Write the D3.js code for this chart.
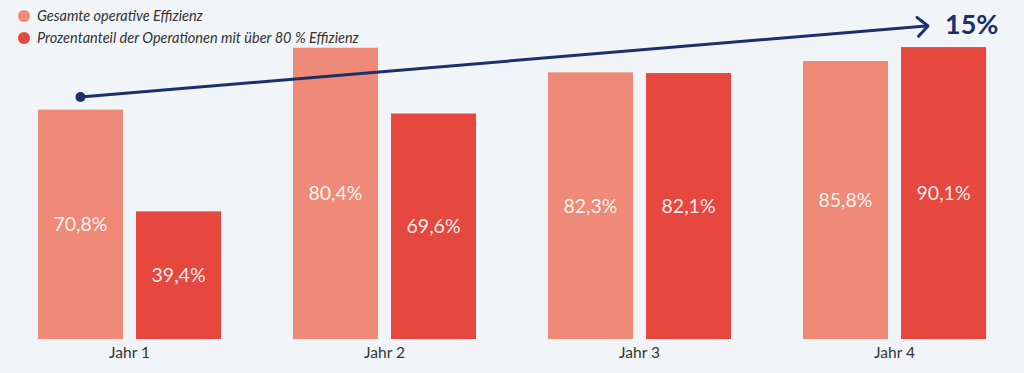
<!DOCTYPE html>
<html>
<head>
<meta charset="utf-8">
<script src="https://cdn.jsdelivr.net/npm/d3@7"></script>
<style>
  html, body { margin: 0; padding: 0; background: #f2f5f8; }
  svg { display: block; font-family: Lato, "Open Sans", sans-serif; }
</style>
</head>
<body>
<div id="chart"></div>
<script>
// data
var jahre = ["Jahr 1", "Jahr 2", "Jahr 3", "Jahr 4"];
var serien = ["Gesamte operative Effizienz", "Prozentanteil der Operationen mit über 80 % Effizienz"];
var gesamt = [70.8, 80.4, 82.3, 85.8];
var ueber80 = [39.4, 69.6, 82.1, 90.1];
// the Jahr 2 bar is drawn taller than its label says, keep the drawn height apart
var gesamtBalken = [70.8, 89.9, 82.3, 85.8];
var steigerung = "15%";
var farben = ["#ee8a77", "#e6473e"];

var width = 1024, height = 373;

var svg = d3.select("#chart").append("svg")
    .attr("width", width)
    .attr("height", height);

svg.append("rect")
    .attr("width", width)
    .attr("height", height)
    .attr("fill", "#f2f5f8");

var x = d3.scaleBand()
    .domain(jahre)
    .range([2, 1022])
    .paddingInner(0.282)
    .paddingOuter(0.141);

var xs = d3.scaleBand()
    .domain([0, 1])
    .range([0, x.bandwidth()])
    .paddingInner(0.133);

var y = d3.scaleLinear()
    .domain([0, 100])
    .range([339, 15]);

var rows = jahre.map(function (j, i) {
  return [
    {jahr: j, s: 0, hoehe: gesamtBalken[i], wert: gesamt[i]},
    {jahr: j, s: 1, hoehe: ueber80[i], wert: ueber80[i]}
  ];
});
var flat = d3.merge(rows);

var fmt = function (v) { return d3.format(".1f")(v).replace(".", ",") + "%"; };

//bars
svg.selectAll("rect.bar")
    .data(flat)
    .enter()
    .append("rect")
    .attr("class", "bar")
    .attr("x", function (d) { return x(d.jahr) + xs(d.s); })
    .attr("y", function (d) { return y(d.hoehe); })
    .attr("width", xs.bandwidth())
    .attr("height", function (d) { return y(0) - y(d.hoehe); })
    .attr("fill", function (d) { return farben[d.s]; });

//value labels in the middle of each bar
svg.selectAll("text.wert")
    .data(flat)
    .enter()
    .append("text")
    .attr("class", "wert")
    .attr("x", function (d) { return x(d.jahr) + xs(d.s) + xs.bandwidth() / 2; })
    .attr("y", function (d) { return (y(d.hoehe) + y(0)) / 2 + 7; })
    .attr("text-anchor", "middle")
    .attr("font-size", "19.5px")
    .attr("fill", "#ffffff")
    .attr("fill-opacity", 0.92)
    .text(function (d) { return fmt(d.wert); });

//x axis labels
var xAxis = d3.axisBottom(x).tickSize(0).tickPadding(8);
var gx = svg.append("g")
    .attr("transform", "translate(0," + y(0) + ")")
    .call(xAxis);
gx.select(".domain").remove();
gx.selectAll("text")
    .attr("font-family", "Lato, sans-serif")
    .attr("font-size", "15.5px")
    .attr("fill", "#333333");

//arrow annotation
var navy = "#1b2f6c";
var p0 = [x(jahre[0]) + xs(0) + xs.bandwidth() / 2, y(74.7)];
var p1 = [928, y(96.6)];
svg.append("line")
    .attr("x1", p0[0]).attr("y1", p0[1])
    .attr("x2", p1[0] - 2).attr("y2", p1[1])
    .attr("stroke", navy)
    .attr("stroke-width", 3);
svg.append("circle")
    .attr("cx", p0[0]).attr("cy", p0[1])
    .attr("r", 5)
    .attr("fill", navy);
var ang = Math.atan2(p1[1] - p0[1], p1[0] - p0[0]);
var arm = 14, spread = Math.PI / 4.2;
var a1 = [p1[0] - arm * Math.cos(ang - spread), p1[1] - arm * Math.sin(ang - spread)];
var a2 = [p1[0] - arm * Math.cos(ang + spread), p1[1] - arm * Math.sin(ang + spread)];
svg.append("path")
    .attr("d", "M" + a1 + "L" + p1 + "L" + a2)
    .attr("fill", "none")
    .attr("stroke", navy)
    .attr("stroke-width", 3)
    .attr("stroke-linecap", "round")
    .attr("stroke-linejoin", "round");
svg.append("text")
    .attr("x", 945)
    .attr("y", 34)
    .attr("font-size", "27px")
    .attr("font-weight", "bold")
    .attr("fill", navy)
    .text(steigerung);

//legend
var legend = svg.selectAll("g.legend")
    .data(serien)
    .enter()
    .append("g")
    .attr("class", "legend")
    .attr("transform", function (d, i) { return "translate(24," + (16 + i * 22) + ")"; });
legend.append("circle")
    .attr("r", 6)
    .attr("fill", function (d, i) { return farben[i]; });
legend.append("text")
    .attr("x", 13)
    .attr("y", 5)
    .attr("font-size", "14.5px")
    .attr("font-style", "italic")
    .attr("fill", "#333333")
    .text(function (d) { return d; });
</script>
</body>
</html>
